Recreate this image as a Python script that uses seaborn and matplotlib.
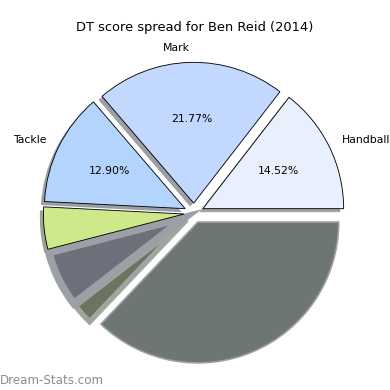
import matplotlib
matplotlib.use("Agg")
import matplotlib.pyplot as plt
import matplotlib.patches as mpatches
from matplotlib.colors import to_rgb
import seaborn as sns

# DT points per stat (percentages come from these)
labels = ["Handballs", "Mark", "Tackle", "", "", "", ""]
points = [18, 27, 16, 6, 8, 3, 46]
colors = ["#e8f0fe", "#c3d8fe", "#b3d4fd", "#cde98a", "#6b707a", "#6c735f", "#6e7673"]
edges = ["black", "black", "black", "black", "#9ca0a6", "#9ea69f", "#9a9e9c"]
widths = [0.8, 0.8, 0.8, 0.8, 7, 5, 1.5]
show_pct = [True, True, True, False, False, False, False]

sns.set_style("white")

fig = plt.figure(figsize=(5, 5), dpi=78)
ax = fig.add_axes([18 / 390, 1 / 390, 352 / 390, 352 / 390])

wedges, texts, autotexts = ax.pie(
    points,
    labels=labels,
    colors=colors,
    explode=[0.07] * len(points),
    autopct="%.2f%%",
    startangle=0,
    textprops={"fontsize": 10, "color": "black"},
)

off = 0.025  # shadow shift, down-left
for i, (w, ec, lw) in enumerate(zip(wedges, edges, widths)):
    w.set_edgecolor(ec)
    w.set_linewidth(lw)
    if ec != "black":
        # greyed slices sit under the outlined ones, no drop shadow
        w.set_zorder(1.5 - 0.01 * i)
        continue
    w.set_zorder(2)
    cx, cy = w.center
    shade = [0.3 * c for c in to_rgb(w.get_facecolor())]
    ax.add_patch(mpatches.Wedge((cx - off, cy - off), w.r, w.theta1, w.theta2,
                                facecolor=shade, edgecolor="none", alpha=0.5,
                                zorder=0.5))

for t, keep in zip(autotexts, show_pct):
    if not keep:
        t.set_text("")

ax.set_xlim(-1.25, 1.25)
ax.set_ylim(-1.25, 1.25)
ax.set_aspect("equal")
ax.axis("off")

fig.text(0.5, 1 - 27 / 390, "DT score spread for Ben Reid (2014)",
         ha="center", va="center", fontsize=12, color="black")
fig.text(0.0, 10 / 390, "Dream-Stats.com", ha="left", va="center",
         fontsize=11, color="#8c8c8c")

fig.savefig("out.png", dpi=78)
